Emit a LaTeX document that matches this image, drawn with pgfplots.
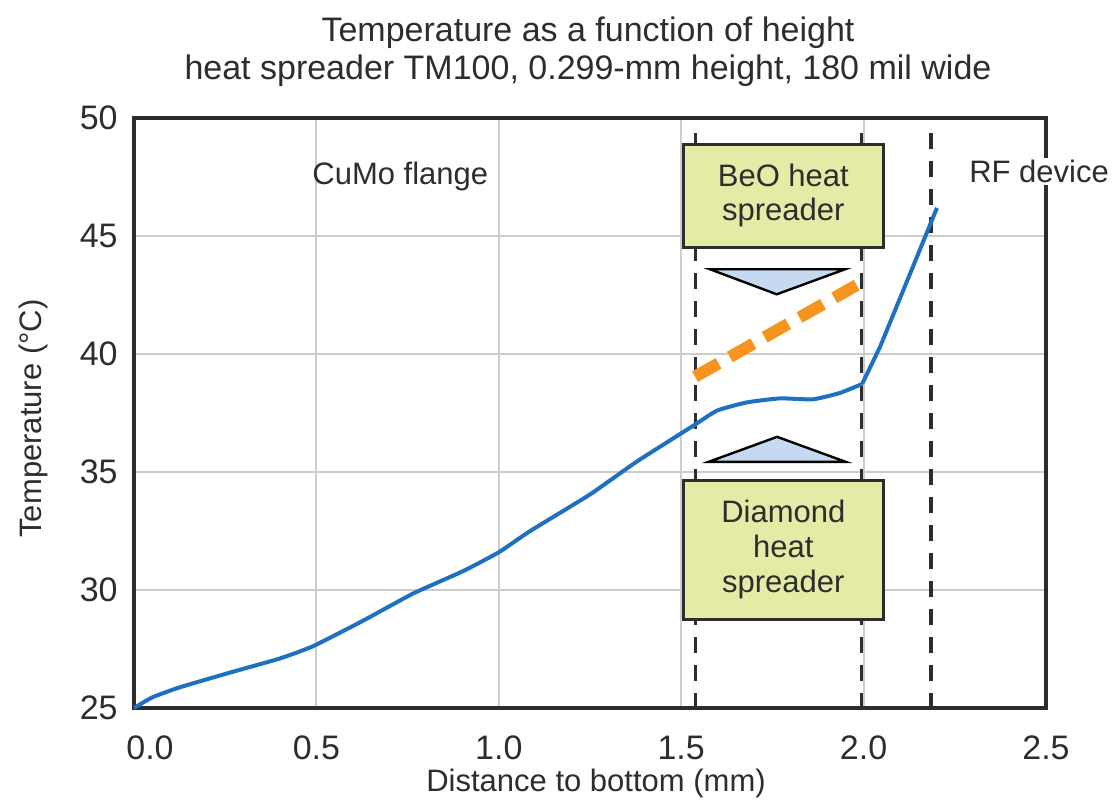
\documentclass[border=0pt]{standalone}
\usepackage{fontspec}
\setmainfont{Liberation Sans}
\usepackage{pgfplots}
\pgfplotsset{compat=1.18}
\definecolor{curveblue}{RGB}{30,112,192}
\definecolor{orangec}{RGB}{247,148,30}
\definecolor{boxc}{RGB}{228,235,167}
\definecolor{trif}{RGB}{197,218,240}
\definecolor{gridc}{RGB}{205,205,205}
\definecolor{darkc}{RGB}{45,45,45}
\begin{document}
\begin{tikzpicture}
\useasboundingbox (-67pt,-46pt) rectangle (489pt,354pt);
\begin{axis}[
  scale only axis, width=456pt, height=295pt,
  xmin=0, xmax=2.5, ymin=25, ymax=50,
  xtick={0,0.5,1,1.5,2,2.5},
  xticklabels={\hspace*{16pt}0.0,0.5,1.0,1.5,2.0,2.5},
  ytick={25,30,35,40,45,50},
  yticklabels={25,30,35,40,45,50},
  grid=major, major grid style={line width=1pt, color=gridc},
  axis line style={line width=1.6pt, color=darkc},
  tick style={draw=none},
  tick label style={font=\fontsize{17}{20}\selectfont, text=darkc},
  xticklabel style={anchor=base, yshift=-25.5pt},
  yticklabel style={anchor=east, inner sep=0pt, xshift=-8pt},
  clip=false,
]
% vertical dashed lines
\addplot[darkc, line width=1.6pt, dash pattern=on 8pt off 6pt] coordinates {(1.54,49.36) (1.54,24.75)};
\addplot[darkc, line width=1.6pt, dash pattern=on 8pt off 6pt] coordinates {(1.995,49.36) (1.995,24.75)};
\addplot[darkc, line width=1.6pt, dash pattern=on 8pt off 6pt] coordinates {(2.185,49.36) (2.185,24.75)};
% boxes
\draw[fill=boxc, draw=darkc, line width=1.5pt] (axis cs:1.506,48.86) rectangle (axis cs:2.054,44.53);
\node[align=center, font=\fontsize{15.5}{17}\selectfont, text=darkc] at (axis cs:1.78,46.7) {BeO heat\\spreader};
\draw[fill=boxc, draw=darkc, line width=1.5pt] (axis cs:1.506,34.66) rectangle (axis cs:2.054,28.77);
\node[align=center, font=\fontsize{15.5}{17.5}\selectfont, text=darkc] at (axis cs:1.78,31.72) {Diamond\\heat\\spreader};
% triangles
\addplot[fill=trif, draw=black, line width=1.2pt] coordinates {(1.579,43.59) (1.949,43.59) (1.762,42.53)} --cycle;
\addplot[fill=trif, draw=black, line width=1.2pt] coordinates {(1.575,35.43) (1.951,35.43) (1.763,36.49)} --cycle;
% orange dashed
\addplot[orangec, line width=6pt, dash pattern=on 13.5pt off 6.5pt] coordinates {(1.538,39.04) (1.981,42.92)};
% temperature curve
\addplot[curveblue, line width=2pt, line join=round, smooth, tension=0.3] coordinates {
(0,25.0) (0.05,25.45) (0.126,25.88) (0.263,26.50) (0.400,27.10) (0.491,27.62)
(0.628,28.70) (0.765,29.85) (0.902,30.80) (1.0,31.60) (1.086,32.50)
(1.250,34.05) (1.379,35.45) (1.532,36.95) (1.598,37.60)
(1.680,37.95) (1.771,38.12) (1.861,38.08) (1.935,38.35) (1.996,38.73)};
\addplot[curveblue, line width=2pt, line join=round] coordinates {
(1.996,38.73) (2.045,40.30) (2.135,43.69) (2.201,46.19)};
% labels
\node[anchor=base, font=\fontsize{15.5}{17}\selectfont, text=darkc] at (axis cs:0.73,47.2) {CuMo flange};
\node[anchor=base, fill=white, inner sep=1pt, font=\fontsize{15.5}{17}\selectfont, text=darkc] at (axis cs:2.481,47.25) {RF device};
\end{axis}
\node[anchor=base, font=\fontsize{15.5}{17}\selectfont, text=darkc] at (231pt,-41.5pt) {Distance to bottom (mm)};
\node[anchor=base, rotate=90, font=\fontsize{15.5}{17}\selectfont, text=darkc] at (-46pt,144.75pt) {Temperature (°C)};
\node[anchor=base, font=\fontsize{17}{19}\selectfont, text=darkc] at (227pt,333pt) {Temperature as a function of height};
\node[anchor=base, font=\fontsize{17}{19}\selectfont, text=darkc] at (227pt,314pt) {heat spreader TM100, 0.299-mm height, 180 mil wide};
\end{tikzpicture}
\end{document}
